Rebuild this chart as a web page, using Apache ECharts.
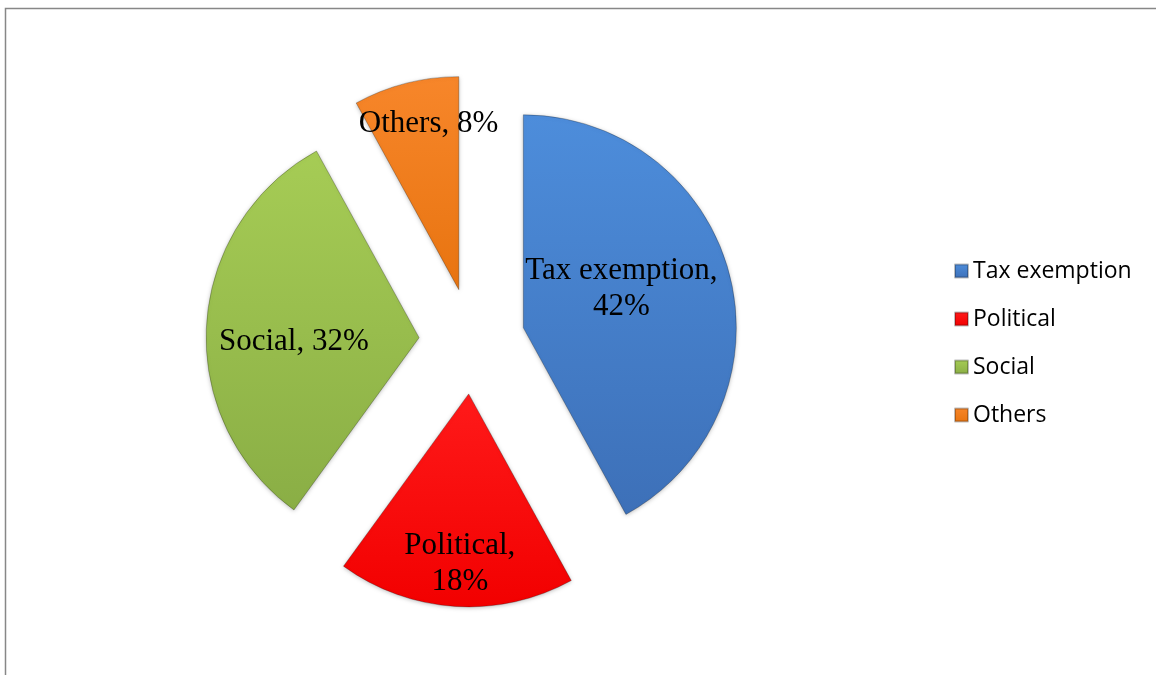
<!DOCTYPE html>
<html>
<head>
<meta charset="utf-8">
<script src="https://cdn.jsdelivr.net/npm/echarts@6/dist/echarts.min.js"></script>
<style>
  html, body { margin: 0; padding: 0; background: #fff; }
  #chart { width: 1156px; height: 675px; }
</style>
</head>
<body>
<div id="chart"></div>
<script>
// Reasons, share of respondents (%)
const categories = ['Tax exemption', 'Political', 'Social', 'Others'];
const values = [42, 18, 32, 8];
// Categories whose label wraps onto a second line
const wrappedLabels = ['Tax exemption', 'Political'];

const palette = [
  ['#4d8ddb', '#3d70b8'],
  ['#ff1a1a', '#f20000'],
  ['#a6cc55', '#8aae45'],
  ['#f7862a', '#e87410']
];
// Nudges for the in-slice labels
const labelShift = [[-8, -12], [-2, 61], [-16, 11], [-3, -60]];

function grad(c) {
  return new echarts.graphic.LinearGradient(0, 0, 0, 1, [
    { offset: 0, color: c[0] },
    { offset: 1, color: c[1] }
  ]);
}

const chart = echarts.init(document.getElementById('chart'), null, { renderer: 'canvas' });

const data = categories.map((name, i) => ({
  name: name,
  value: values[i],
  selected: true,
  itemStyle: { color: grad(palette[i]) }
}));

chart.setOption({
  animation: false,
  graphic: [{
    type: 'rect',
    left: 3, top: 6,
    shape: { width: 1200, height: 720 },
    style: { fill: 'none', stroke: '#878787', lineWidth: 1.5 },
    silent: true
  }],
  legend: {
    orient: 'vertical',
    left: 949,
    top: 252,
    itemWidth: 13,
    itemHeight: 13,
    itemGap: 20,
    icon: 'rect',
    selectedMode: false,
    textStyle: { fontFamily: 'Open Sans', fontSize: 23, color: '#000', lineHeight: 28 },
    data: categories
  },
  series: [{
    type: 'pie',
    center: [472, 341],
    radius: 213,
    startAngle: 90,
    clockwise: true,
    selectedMode: 'multiple',
    selectedOffset: 53,
    avoidLabelOverlap: false,
    silent: true,
    itemStyle: {
      borderColor: 'rgba(0,0,0,0.25)',
      borderWidth: 1,
      shadowBlur: 4,
      shadowColor: 'rgba(0,0,0,0.25)',
      shadowOffsetY: 1
    },
    select: {
      itemStyle: { borderColor: 'rgba(0,0,0,0.25)', borderWidth: 1 }
    },
    emphasis: { disabled: true },
    label: {
      show: true,
      position: 'inside',
      fontFamily: 'Liberation Serif',
      fontSize: 31,
      lineHeight: 36,
      color: '#000',
      formatter: p => wrappedLabels.includes(p.name)
        ? p.name + ',\n' + p.value + '%'
        : p.name + ', ' + p.value + '%'
    },
    labelLayout: p => ({ dx: labelShift[p.dataIndex][0], dy: labelShift[p.dataIndex][1] }),
    labelLine: { show: false },
    data: data
  }]
});
</script>
</body>
</html>
